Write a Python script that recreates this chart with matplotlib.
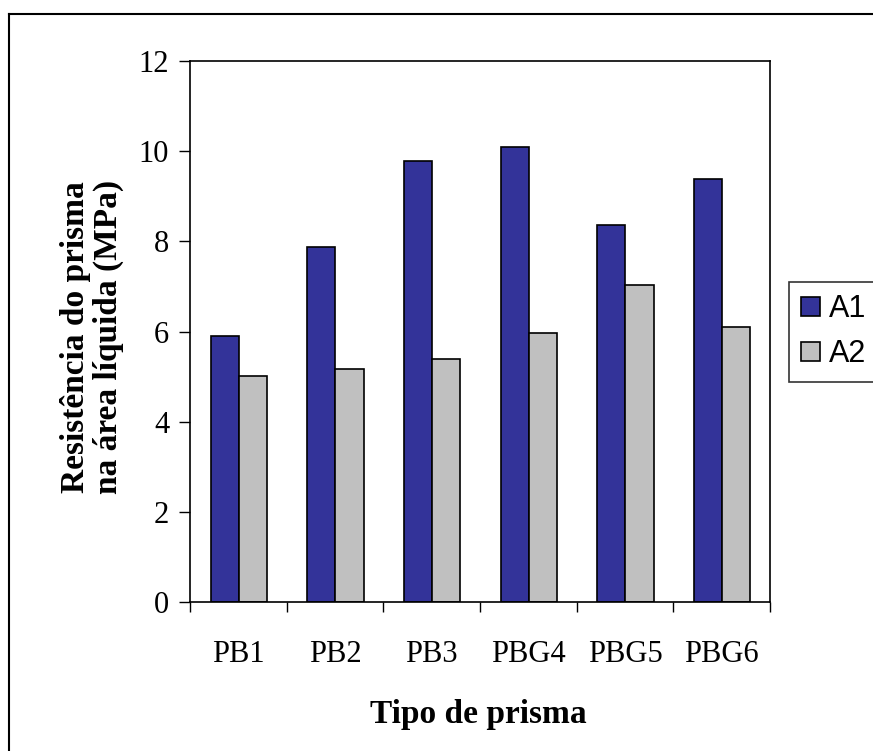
import matplotlib
matplotlib.use("Agg")
import matplotlib.pyplot as plt
import numpy as np
from matplotlib.lines import Line2D

categories = ["PB1", "PB2", "PB3", "PBG4", "PBG5", "PBG6"]
a1 = [5.91, 7.88, 9.79, 10.10, 8.36, 9.38]
a2 = [5.02, 5.16, 5.38, 5.96, 7.03, 6.09]
series_names = ["A1", "A2"]
yticks = [0, 2, 4, 6, 8, 10, 12]

W, H = 873, 751
fig = plt.figure(figsize=(W / 100, H / 100), dpi=100)
fig.patch.set_facecolor("white")

# outer frame (left and top lines)
fig.add_artist(Line2D([8.5 / W, 8.5 / W], [0, 1 - 14 / H], color="black", lw=1.5,
                      transform=fig.transFigure))
fig.add_artist(Line2D([8.5 / W, 1], [1 - 14 / H, 1 - 14 / H], color="black", lw=1.5,
                      transform=fig.transFigure))

ax = fig.add_axes([190 / W, 1 - 602 / H, (770 - 190) / W, (602 - 61) / H])

serif = ["Liberation Serif", "DejaVu Serif"]
x = np.arange(len(categories))
bw = 0.29
b1 = ax.bar(x - 0.14, a1, width=bw, color="#333399", edgecolor="black", linewidth=1.2,
            label=series_names[0])
b2 = ax.bar(x + 0.15, a2, width=bw, color="#C0C0C0", edgecolor="black", linewidth=1.2,
            label=series_names[1])

ax.set_xlim(-0.5, len(categories) - 0.5)
ax.set_ylim(0, 12)
ax.set_yticks(yticks)
ax.set_yticklabels([str(t) for t in yticks], fontfamily=serif, fontsize=22)
ax.tick_params(axis="y", direction="out", length=8, width=1, pad=7)

# category labels at centers, ticks at boundaries
ax.set_xticks(x)
ax.set_xticklabels(categories, fontfamily=serif, fontsize=22)
ax.set_xticks(np.arange(-0.5, len(categories) + 0.5, 1), minor=True)
ax.tick_params(axis="x", which="major", length=0, pad=27)
ax.tick_params(axis="x", which="minor", direction="out", length=7, width=1)

for s in ax.spines.values():
    s.set_linewidth(1.2)
    s.set_color("black")

fig.text(478 / W, 1 - 714 / H, "Tipo de prisma", ha="center", va="center",
         fontfamily=serif, fontsize=24, fontweight="bold")
fig.text(92 / W, 1 - 337 / H, "Resistência do prisma\nna área líquida (MPa)",
         ha="center", va="center", rotation=90, multialignment="center",
         fontfamily=serif, fontsize=24, fontweight="bold", linespacing=1.1)

leg = fig.legend(handles=[b1, b2], labels=series_names, loc="upper left",
                 bbox_to_anchor=(789 / W, 1 - 282 / H), bbox_transform=fig.transFigure,
                 prop={"family": ["Liberation Sans", "DejaVu Sans"], "size": 22},
                 fancybox=False, frameon=True, borderpad=0.4, handlelength=0.62,
                 handleheight=0.58, handletextpad=0.3, labelspacing=0.5, borderaxespad=0)
leg.get_frame().set_edgecolor("black")
leg.get_frame().set_linewidth(1.2)

fig.savefig("out.png", dpi=100, facecolor="white")
